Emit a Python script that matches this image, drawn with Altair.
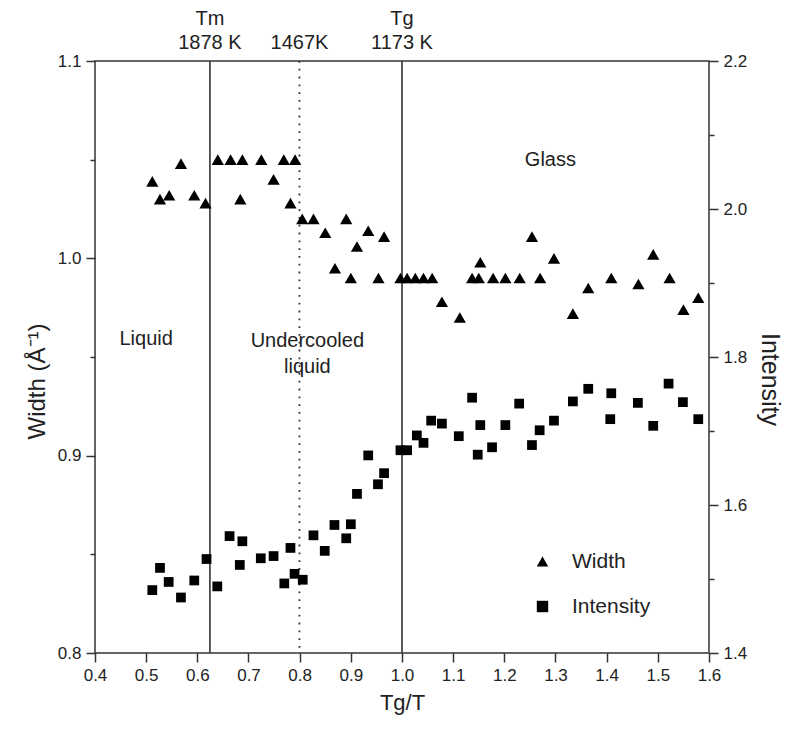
import altair as alt
import pandas as pd

# Peak width (left axis) versus reduced inverse temperature Tg/T
width_x = [0.512, 0.527, 0.545, 0.568, 0.594, 0.616, 0.640, 0.665, 0.688, 0.684,
           0.725, 0.749, 0.769, 0.791, 0.782, 0.805, 0.827, 0.850, 0.891, 0.869,
           0.900, 0.934, 0.912, 0.965, 0.954, 0.997, 1.010, 1.026, 1.042, 1.059,
           1.078, 1.113, 1.137, 1.150, 1.153, 1.178, 1.202, 1.230, 1.254, 1.270,
           1.297, 1.334, 1.364, 1.409, 1.462, 1.491, 1.523, 1.550, 1.579]
width_y = [1.039, 1.030, 1.032, 1.048, 1.032, 1.028, 1.050, 1.050, 1.050, 1.030,
           1.050, 1.040, 1.050, 1.050, 1.028, 1.020, 1.020, 1.013, 1.020, 0.995,
           0.990, 1.014, 1.006, 1.011, 0.990, 0.990, 0.990, 0.990, 0.990, 0.990,
           0.978, 0.970, 0.990, 0.990, 0.998, 0.990, 0.990, 0.990, 1.011, 0.990,
           1.000, 0.972, 0.985, 0.990, 0.987, 1.002, 0.990, 0.974, 0.980]

# Peak intensity (right axis)
inten_x = [0.512, 0.527, 0.544, 0.568, 0.594, 0.618, 0.639, 0.663, 0.688, 0.683,
           0.724, 0.749, 0.770, 0.782, 0.790, 0.806, 0.827, 0.849, 0.868, 0.891,
           0.900, 0.912, 0.934, 0.953, 0.965, 0.997, 1.010, 1.029, 1.042, 1.057,
           1.078, 1.111, 1.137, 1.148, 1.153, 1.176, 1.202, 1.229, 1.254, 1.269,
           1.297, 1.334, 1.364, 1.409, 1.407, 1.461, 1.491, 1.521, 1.549, 1.579]
inten_y = [1.485, 1.515, 1.496, 1.475, 1.498, 1.527, 1.490, 1.558, 1.551, 1.519,
           1.528, 1.531, 1.494, 1.542, 1.507, 1.499, 1.559, 1.538, 1.573, 1.555,
           1.574, 1.615, 1.667, 1.628, 1.643, 1.674, 1.674, 1.694, 1.684, 1.714,
           1.710, 1.693, 1.745, 1.668, 1.708, 1.678, 1.708, 1.737, 1.681, 1.701,
           1.714, 1.740, 1.757, 1.751, 1.716, 1.738, 1.707, 1.764, 1.739, 1.716]

# Characteristic temperatures (K); Tg/T of each marker line
tg_kelvin = 1173
tm_kelvin = 1878
tx_kelvin = 1467
line_x = [tg_kelvin / tm_kelvin, tg_kelvin / tx_kelvin, 1.0]
line_kind = ["solid", "dotted", "solid"]

# Region names, placed in (Tg/T, width) coordinates
region_text = ["Liquid", "Undercooled", "liquid", "Glass"]
region_x = [0.50, 0.815, 0.815, 1.29]
region_y = [0.959, 0.958, 0.945, 1.050]

# Temperature labels above the frame
top_text = ["Tm", "1878 K", "1467K", "Tg", "1173 K"]
top_x = [line_x[0], line_x[0], line_x[1], line_x[2], line_x[2]]
top_row = [0, 1, 1, 0, 1]

series_names = ["Width", "Intensity"]
series_shapes = ["triangle-up", "square"]

FONT = "Liberation Sans"
INK = "#222222"
FRAME = "#333333"

df_w = pd.DataFrame({"x": width_x, "w": width_y, "series": "Width"})
df_i = pd.DataFrame({"x": inten_x, "i": inten_y, "series": "Intensity"})
df_lines = pd.DataFrame({"x": line_x, "kind": line_kind})
df_regions = pd.DataFrame({"x": region_x, "y": region_y, "label": region_text})
df_top = pd.DataFrame({"x": top_x, "label": top_text, "row": top_row})

x_major = "abs(datum.value*10 - round(datum.value*10)) < 0.001"
r_major = "abs(datum.value*5 - round(datum.value*5)) < 0.001"

x_ticks = [round(0.4 + 0.05 * k, 2) for k in range(25)]
l_ticks = [round(0.8 + 0.05 * k, 2) for k in range(7)]
r_ticks = [round(1.4 + 0.1 * k, 1) for k in range(9)]

common_axis = dict(
    labelFont=FONT, labelFontSize=17, labelColor=INK,
    titleFont=FONT, titleColor=INK, titleFontWeight="normal",
    tickColor=FRAME, tickWidth=1.5, domain=False, grid=False,
    labelOverlap=False, labelFlush=False,
)

x_enc = alt.X(
    "x:Q",
    scale=alt.Scale(domain=[0.4, 1.6], nice=False, zero=False),
    axis=alt.Axis(
        values=x_ticks, title="Tg/T", titleFontSize=22, titlePadding=9,
        labelExpr=f"{x_major} ? format(datum.value, '.1f') : ''",
        tickSize={"condition": {"test": x_major, "value": 9}, "value": 5},
        labelPadding=5, **common_axis,
    ),
)

shape_enc = lambda: alt.Shape(
    "series:N",
    scale=alt.Scale(domain=series_names, range=series_shapes),
    legend=alt.Legend(
        title=None, orient="none", legendX=437, legendY=490,
        labelFont=FONT, labelFontSize=21, labelColor=INK,
        symbolSize=130, symbolFillColor="black", symbolStrokeWidth=0,
        rowPadding=23, labelOffset=19,
    ),
)

width_pts = alt.Chart(df_w).mark_point(filled=True, color="black", size=150, opacity=1).encode(
    x=x_enc,
    y=alt.Y(
        "w:Q",
        scale=alt.Scale(domain=[0.8, 1.1], nice=False, zero=False),
        axis=alt.Axis(
            orient="left", values=l_ticks, title="Width (Å⁻¹)", titleFontSize=24,
            titleX=-58, titleY=320, titleAngle=270, titleBaseline="middle", titleAlign="center",
            labelExpr=f"{x_major} ? format(datum.value, '.1f') : ''",
            tickSize={"condition": {"test": x_major, "value": 9}, "value": 5},
            labelPadding=5, **common_axis,
        ),
    ),
    shape=shape_enc(),
)

inten_pts = alt.Chart(df_i).mark_point(filled=True, color="black", size=95, opacity=1).encode(
    x=x_enc,
    y=alt.Y(
        "i:Q",
        scale=alt.Scale(domain=[1.4, 2.2], nice=False, zero=False),
        axis=alt.Axis(
            orient="right", values=r_ticks, title="Intensity", titleFontSize=25,
            titleX=60, titleY=318, titleAngle=90, titleBaseline="middle", titleAlign="center",
            labelExpr=f"{r_major} ? format(datum.value, '.1f') : ''",
            tickSize={"condition": {"test": r_major, "value": 9}, "value": 5},
            labelPadding=5, **common_axis,
        ),
    ),
    shape=shape_enc(),
)

solid_lines = alt.Chart(df_lines).transform_filter("datum.kind == 'solid'").mark_rule(
    color=FRAME, strokeWidth=1.6
).encode(x="x:Q")

dotted_lines = alt.Chart(df_lines).transform_filter("datum.kind == 'dotted'").mark_rule(
    color=FRAME, strokeWidth=1.8, strokeDash=[1.8, 6]
).encode(x="x:Q")

regions = alt.Chart(df_regions).mark_text(
    font=FONT, fontSize=20, color=INK, align="center", baseline="middle"
).encode(
    x="x:Q",
    y=alt.Y("y:Q", scale=alt.Scale(domain=[0.8, 1.1], nice=False, zero=False), axis=None),
    text="label:N",
)

top_row0 = alt.Chart(df_top).transform_filter("datum.row == 0").mark_text(
    font=FONT, fontSize=20, color=INK, align="center", baseline="middle"
).encode(x="x:Q", y=alt.value(-42), text="label:N")

top_row1 = alt.Chart(df_top).transform_filter("datum.row == 1").mark_text(
    font=FONT, fontSize=20, color=INK, align="center", baseline="middle"
).encode(x="x:Q", y=alt.value(-18), text="label:N")

chart = alt.layer(
    solid_lines, dotted_lines, width_pts, inten_pts, regions, top_row0, top_row1
).resolve_scale(y="independent").properties(
    width=614, height=592,
    padding={"left": 95, "top": 61, "right": 89, "bottom": 77},
    autosize=alt.AutoSizeParams(type="none"),
    background="white",
).configure_view(stroke=FRAME, strokeWidth=1.5)

chart.save("out.html", embed_options={"renderer": "svg", "actions": False})
